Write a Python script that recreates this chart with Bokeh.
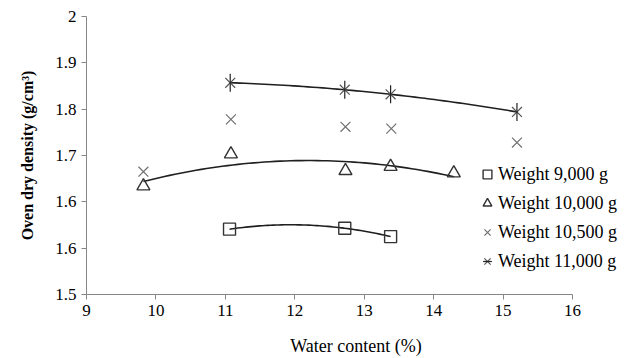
import numpy as np
from bokeh.plotting import figure
from bokeh.models import FixedTicker, Legend, LegendItem, Range1d
from bokeh.embed import file_html
from bokeh.resources import INLINE

# Data
w9000_x = [11.06, 12.72, 13.38]
w9000_y = [1.541, 1.543, 1.525]
w10000_x = [9.82, 11.08, 12.73, 13.38, 14.29]
w10000_y = [1.634, 1.703, 1.667, 1.676, 1.662]
w10500_x = [9.82, 11.08, 12.73, 13.39, 15.20]
w10500_y = [1.665, 1.778, 1.762, 1.758, 1.728]
w11000_x = [11.07, 12.72, 13.38, 15.20]
w11000_y = [1.857, 1.842, 1.832, 1.794]

series_labels = ["Weight 9,000 g", "Weight 10,000 g", "Weight 10,500 g", "Weight 11,000 g"]
x_ticks = [9, 10, 11, 12, 13, 14, 15, 16]
y_ticks = [1.4, 1.5, 1.6, 1.7, 1.8, 1.9, 2.0]
y_tick_labels = ["1.5", "1.6", "1.6", "1.7", "1.8", "1.9", "2"]

FONT = "Liberation Serif"

# frame spans 9..16 over 486 px; extend the range to the right so the legend fits
PX_PER_UNIT = 486 / 7.0
W, H = 625, 358
LEFT, TOP, BOTTOM = 86, 16, 63
x_end = 9 + (W - LEFT) / PX_PER_UNIT

p = figure(width=W, height=H, output_backend="svg", toolbar_location=None,
           x_range=Range1d(9, x_end), y_range=Range1d(1.4, 2.0),
           min_border_left=LEFT, min_border_top=TOP, min_border_right=0,
           min_border_bottom=BOTTOM)
p.outline_line_color = None
p.xgrid.visible = False
p.ygrid.visible = False

for ax in (p.xaxis[0], p.yaxis[0]):
    ax.axis_line_color = "#868686"
    ax.major_tick_line_color = "#868686"
    ax.minor_tick_line_color = None
    ax.major_tick_in = 0
    ax.major_tick_out = 5
    ax.major_label_text_font = FONT
    ax.major_label_text_font_size = "17px"
    ax.major_label_text_color = "#000000"
    ax.axis_label_text_font = FONT
    ax.axis_label_text_color = "#000000"

p.xaxis.bounds = (9, 16)
p.xaxis.ticker = FixedTicker(ticks=x_ticks)
p.yaxis.ticker = FixedTicker(ticks=y_ticks)
p.yaxis.major_label_overrides = {t: l for t, l in zip(y_ticks, y_tick_labels)}
p.xaxis.axis_label = "Water content (%)"
p.yaxis.axis_label = "Oven dry density (g/cm³)"
p.yaxis.axis_label_text_font_style = "bold"
p.yaxis.axis_label_text_font_size = "16px"
p.xaxis.axis_label_text_font_style = "normal"
p.xaxis.axis_label_text_font_size = "18px"
p.xaxis.axis_label_standoff = 17
p.yaxis.axis_label_standoff = 16
p.xaxis.major_label_standoff = 5
p.yaxis.major_label_standoff = 5


def trend(xs, ys):
    c = np.polyfit(xs, ys, 2)
    xx = np.linspace(min(xs), max(xs), 60)
    return xx, np.polyval(c, xx)

LINE = "#1f1f1f"
for xs, ys in ((w9000_x, w9000_y), (w10000_x, w10000_y), (w11000_x, w11000_y)):
    tx, ty = trend(xs, ys)
    p.line(tx, ty, line_color=LINE, line_width=1.6)

r_sq = p.scatter(w9000_x, w9000_y, marker="square", size=12, fill_color=None,
                 line_color="#333333", line_width=1.4)
r_tr = p.scatter(w10000_x, w10000_y, marker="triangle", size=13, fill_color=None,
                 line_color="#333333", line_width=1.4)
r_x = p.scatter(w10500_x, w10500_y, marker="x", size=14, fill_color=None,
                line_color="#707070", line_width=1.2)
r_ax = p.scatter(w11000_x, w11000_y, marker="x", size=14, fill_color=None,
                 line_color="#555555", line_width=1.2)
r_ad = p.scatter(w11000_x, w11000_y, marker="dash", angle=np.pi / 2, size=18,
                 line_color="#222222", line_width=1.2)

legend = Legend(items=[
    LegendItem(label=series_labels[0], renderers=[r_sq]),
    LegendItem(label=series_labels[1], renderers=[r_tr]),
    LegendItem(label=series_labels[2], renderers=[r_x]),
    LegendItem(label=series_labels[3], renderers=[r_ax, r_ad]),
], location=(390, 22))
legend.label_text_font = FONT
legend.label_text_font_size = "18px"
legend.label_text_color = "#000000"
legend.border_line_alpha = 0
legend.background_fill_alpha = 0
legend.padding = 0
legend.margin = 0
legend.glyph_width = 22
legend.glyph_height = 22
legend.label_height = 22
legend.label_standoff = 0
legend.spacing = 7
p.add_layout(legend)

open("out.html", "w").write(file_html(p, INLINE))
